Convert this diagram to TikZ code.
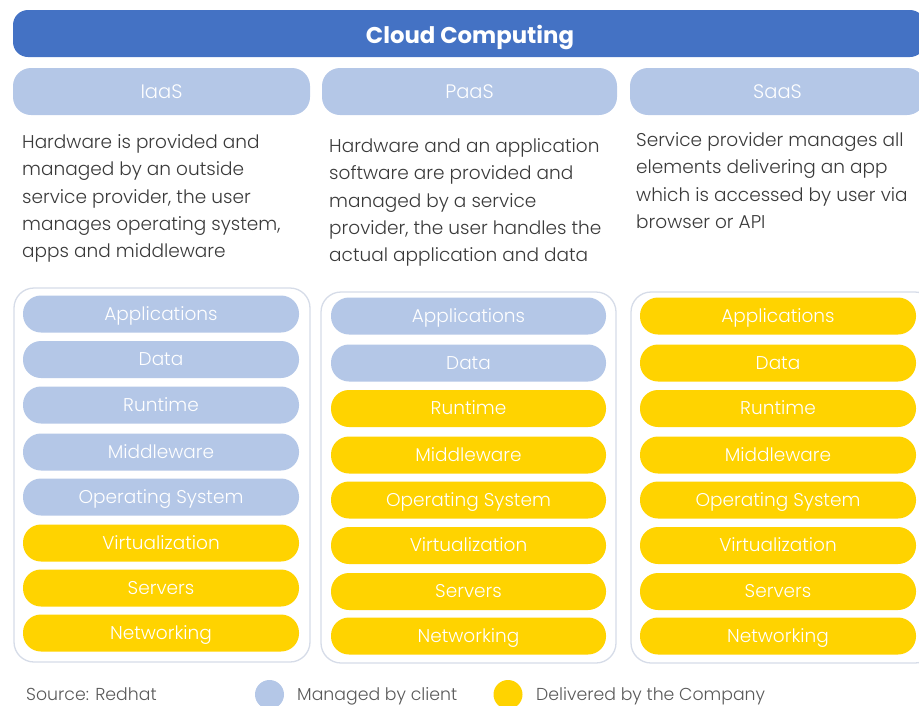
\documentclass[tikz,border=0pt]{standalone}
\usepackage{fontspec}
\setmainfont{Poppins}
\newfontfamily\lightfont{Poppins Light}
\definecolor{hdr}{HTML}{4472C4}
\definecolor{lb}{HTML}{B4C7E7}
\definecolor{yl}{HTML}{FFD300}
\definecolor{framec}{HTML}{D6DCE8}
\definecolor{txt}{HTML}{3A3A3A}
\definecolor{leg}{HTML}{595959}
\tikzset{
  titlebox/.style={fill=hdr, rounded corners=15pt, minimum height=47pt, inner sep=0pt},
  titletxt/.style={text=white, font=\fontsize{22.8}{26}\selectfont\bfseries, inner sep=0pt, text height=16pt, text depth=4pt},
  subbox/.style={fill=lb, rounded corners=18pt, minimum height=47pt, text=white, font=\lightfont\fontsize{19.5}{22}\selectfont, inner sep=0pt, text height=17pt, text depth=3pt},
  desc/.style={anchor=north west, align=left, inner sep=0pt, text=txt, font=\lightfont\fontsize{18.5}{27.2}\selectfont},
  colframe/.style={draw=framec, line width=1.3pt, rounded corners=20pt, fill=white},
  bar/.style={rounded corners=18pt, minimum width=276pt, minimum height=37pt, text=white, inner sep=0pt, font=\lightfont\fontsize{18.5}{20}\selectfont, text height=15pt, text depth=3pt},
  cl/.style={bar, fill=lb},
  co/.style={bar, fill=yl},
  legtext/.style={anchor=west, text=leg, inner sep=0pt, font=\lightfont\fontsize{17.3}{20}\selectfont, text height=15pt, text depth=2pt},
  dot/.style={circle, minimum size=29pt, inner sep=0pt}
}
\begin{document}
\begin{tikzpicture}[x=1pt,y=-1pt]
\useasboundingbox (0,0) rectangle (919,705);
\clip (0,0) rectangle (919,705);
% title
\node[titlebox, minimum width=912pt] (title) at (469,33.5) {};
\node[titletxt] (titletext) at (470,37) {Cloud Computing};
% sub headers
\node[subbox, minimum width=297pt] (iaas) at (161.5,91.5) {IaaS};
\node[subbox, minimum width=295pt] (paas) at (469.5,91.5) {PaaS};
\node[subbox, minimum width=295pt] (saas) at (777.5,91.5) {SaaS};
% descriptions
\node[desc] (d1) at (22,134.5) {Hardware is provided and\\managed by an outside\\service provider, the user\\manages operating system,\\apps and middleware};
\node[desc] (d2) at (329,138.5) {Hardware and an application\\software are provided and\\managed by a service\\provider, the user handles the\\actual application and data};
\node[desc] (d3) at (636,132.5) {Service provider manages all\\elements delivering an app\\which is accessed by user via\\browser or API};
% frames
\draw[colframe] (14,288) rectangle (310,662);
\draw[colframe] (321,292) rectangle (616,663);
\draw[colframe] (631,292) rectangle (935,663);
% column 1
\node[cl] (a1) at (161,314) {Applications};
\node[cl] (b1) at (161,359.5) {Data};
\node[cl] (c1) at (161,405) {Runtime};
\node[cl] (e1) at (161,452) {Middleware};
\node[cl] (f1) at (161,497) {Operating System};
\node[co] (g1) at (161,543) {Virtualization};
\node[co] (h1) at (161,588) {Servers};
\node[co] (k1) at (161,633) {Networking};
% column 2
\node[cl, minimum width=275pt] (a2) at (468.5,316) {Applications};
\node[cl, minimum width=275pt] (b2) at (468.5,363) {Data};
\node[co, minimum width=275pt] (c2) at (468.5,408.5) {Runtime};
\node[co, minimum width=275pt] (e2) at (468.5,455) {Middleware};
\node[co, minimum width=275pt] (f2) at (468.5,500) {Operating System};
\node[co, minimum width=275pt] (g2) at (468.5,545.5) {Virtualization};
\node[co, minimum width=275pt] (h2) at (468.5,591.5) {Servers};
\node[co, minimum width=275pt] (k2) at (468.5,636) {Networking};
% column 3
\node[co] (a3) at (778,316) {Applications};
\node[co] (b3) at (778,363) {Data};
\node[co] (c3) at (778,408.5) {Runtime};
\node[co] (e3) at (778,455) {Middleware};
\node[co] (f3) at (778,500) {Operating System};
\node[co] (g3) at (778,545.5) {Virtualization};
\node[co] (h3) at (778,591.5) {Servers};
\node[co] (k3) at (778,636) {Networking};
% legend
\node[legtext] (src) at (26,694) {Source: Redhat};
\node[dot, fill=lb] (dotc) at (269.5,694.5) {};
\node[legtext] (lc) at (297,694) {Managed by client};
\node[dot, fill=yl] (doty) at (508,694.5) {};
\node[legtext] (ly) at (536,694) {Delivered by the Company};
\end{tikzpicture}
\end{document}
